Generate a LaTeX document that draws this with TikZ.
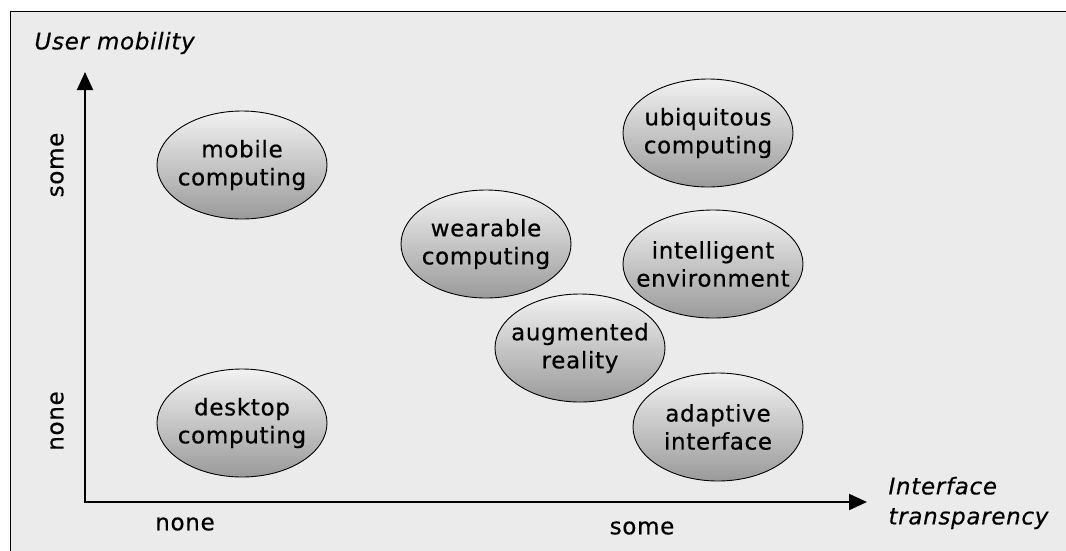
\documentclass[tikz,border=0pt]{standalone}
\usepackage{fontspec}
\setmainfont{DejaVu Sans}[FakeBold=0.5, LetterSpace=3]
\usetikzlibrary{arrows.meta,shapes.geometric}
\definecolor{panelgray}{HTML}{EBEBEB}
\definecolor{blobtop}{HTML}{F2F2F2}
\definecolor{blobbottom}{HTML}{9A9A9A}
\tikzset{>/.tip={Triangle[length=18pt,width=16pt]},
  blob/.style={ellipse, draw=black, line width=0.9pt, top color=blobtop,
    bottom color=blobbottom, minimum width=170pt, minimum height=108pt,
    inner sep=0pt},
  blobtext/.style={align=center, inner sep=0pt, font=\fontsize{23}{28}\selectfont},
  tick/.style={font=\fontsize{23}{28}\selectfont},
  axistitle/.style={font=\fontsize{23}{30}\selectfont\itshape, align=left}}

\begin{document}
\begin{tikzpicture}[x=1pt, y=-1pt]
\useasboundingbox (0,0) rectangle (1066,550);
\clip (0,0) rectangle (1066,550);
\fill[white] (0,0) rectangle (1066,550);
\filldraw[fill=panelgray, draw=black, line width=1pt] (10,11) rectangle (1080,560);

\coordinate (origin) at (85,502);
\coordinate (ytip) at (85,72);
\coordinate (xtip) at (867,502);

\node[axistitle, anchor=west] (ytitle) at (31,43) {User mobility};
\node[axistitle, anchor=west] (xtitle) at (885,503) {Interface\\transparency};

\node[tick, rotate=90] (ysome) at (57,165) {some};
\node[tick, rotate=90] (ynone) at (57,421) {none};
\node[tick] (xnone) at (185,524) {none};
\node[tick] (xsome) at (642,528) {some};

\node[blob] (mobile) at (242,165) {};
\node[blob] (desktop) at (242,423) {};
\node[blob] (wearable) at (486,244) {};
\node[blob] (augmented) at (580,348) {};
\node[blob] (ubiquitous) at (708,133) {};
\node[blob, minimum width=180pt] (intelligent) at (713,264) {};
\node[blob] (adaptive) at (718,427) {};

\node[blobtext] (mobiletext) at (mobile) {mobile\\computing};
\node[blobtext] (desktoptext) at (desktop) {desktop\\computing};
\node[blobtext] (wearabletext) at (wearable) {wearable\\computing};
\node[blobtext] (augmentedtext) at (augmented) {augmented\\reality};
\node[blobtext] (ubiquitoustext) at (ubiquitous) {ubiquitous\\computing};
\node[blobtext] (intelligenttext) at (intelligent) {intelligent\\environment};
\node[blobtext] (adaptivetext) at (adaptive) {adaptive\\interface};

\draw[<->, line width=2pt, line join=miter] (ytip) -- (origin) -- (xtip);
\end{tikzpicture}
\end{document}
